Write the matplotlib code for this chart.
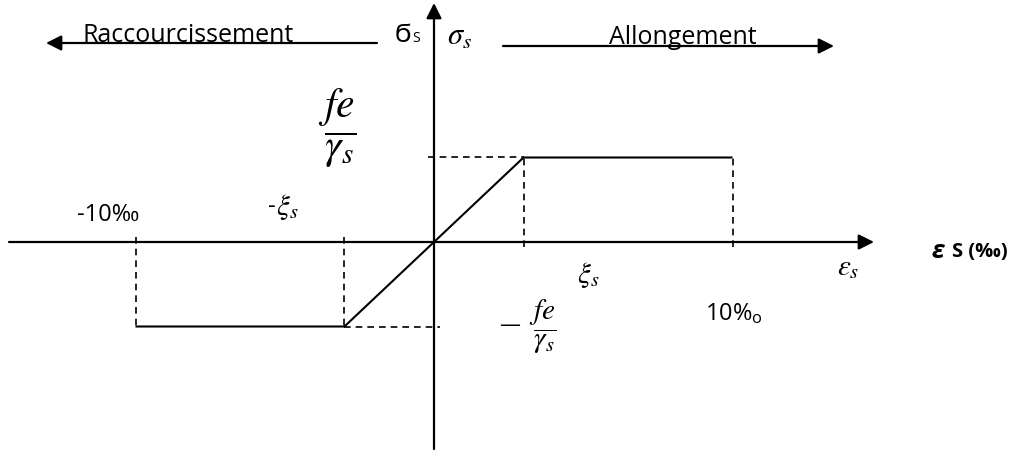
import matplotlib
matplotlib.use("Agg")
from matplotlib import pyplot as plt

# strain in per mille, stress in units of fe/gamma_s
eps_curve = [-10, -3.0, 0, 3.0, 10]
sig_curve = [-1, -1, 0, 1, 1]
eps_marks = [-10, -3.0, 3.0, 10]   # dashed verticals
sig_levels = [1, -1]                 # dashed horizontals
xi_s = 3.0

W, H = 1013, 450
X0, Y0 = 434, 242       # origin in pixels
SX, SY = 29.85, 84.5    # pixels per unit

plt.rcParams['font.family'] = ['Open Sans', 'DejaVu Sans']
plt.rcParams['mathtext.fontset'] = 'stix'


def at(px, py):
    return ((px - X0) / SX, (Y0 - py) / SY)


fig = plt.figure(figsize=(W / 100, H / 100), dpi=100)
ax = fig.add_axes([0, 0, 1, 1])
ax.set_xlim(-X0 / SX, (W - X0) / SX)
ax.set_ylim(-(H - Y0) / SY, Y0 / SY)
ax.axis('off')

arrow = dict(arrowstyle='-|>', mutation_scale=23, lw=1.6, color='k',
             shrinkA=0, shrinkB=0)
# axes
ax.annotate('', xy=at(874, Y0), xytext=at(9, Y0), arrowprops=arrow)
ax.annotate('', xy=at(X0, 3), xytext=at(X0, 449), arrowprops=arrow)
# direction arrows
ax.annotate('', xy=at(46, 43), xytext=at(377, 43), arrowprops=arrow)
ax.annotate('', xy=at(834, 46), xytext=at(503, 46), arrowprops=arrow)

# stress-strain curve
ax.plot(eps_curve, sig_curve, color='k', lw=1.5, solid_capstyle='butt')

dash = dict(color='k', lw=1.2, ls=(0, (4, 3)))
tick = 0.06
for e in eps_marks:
    s = 1 if e > 0 else -1
    ax.plot([e, e], [-tick * s, s], **dash)
ax.plot([-0.2, xi_s], [sig_levels[0]] * 2, **dash)
ax.plot([-xi_s, 0.2], [sig_levels[1]] * 2, **dash)

# labels
ax.text(*at(82, 42), 'Raccourcissement', fontsize=18, va='baseline', ha='left')
ax.text(*at(609, 44), 'Allongement', fontsize=18, va='baseline', ha='left')
ax.text(*at(395, 42), 'Ϭ', fontsize=17, va='baseline', ha='left',
        family=['DejaVu Sans'])
ax.text(*at(412, 42), 'S', fontsize=10, va='baseline', ha='left')
ax.text(*at(447, 37), r'$\sigma_s$', fontsize=22, va='center', ha='left')

ax.text(*at(337, 128), r'$\dfrac{fe}{\gamma_s}$', fontsize=30,
        va='center', ha='center')
ax.text(*at(499, 326), '—', fontsize=15, va='center', ha='left')
ax.text(*at(543, 327), r'$\dfrac{fe}{\gamma_s}$', fontsize=21,
        va='center', ha='center')

ax.text(*at(77, 215), '-10‰', fontsize=17, va='center', ha='left')
ax.text(*at(268, 207), '-', fontsize=17, va='center', ha='left')
ax.text(*at(276, 207), r'$\xi_s$', fontsize=21, va='center', ha='left')
ax.text(*at(577, 275), r'$\xi_s$', fontsize=21, va='center', ha='left')
ax.text(*at(837, 268), r'$\varepsilon_s$', fontsize=21, va='center', ha='left')
ax.text(*at(705, 315), '10%$_\\mathregular{o}$', fontsize=17,
        va='center', ha='left')
ax.text(*at(932, 251), 'ε', fontsize=18, fontweight='bold', style='italic',
        va='center', ha='left')
ax.text(*at(952, 252), 'S (‰)', fontsize=14.5, fontweight='bold',
        va='center', ha='left')

fig.savefig('out.png', dpi=100)
